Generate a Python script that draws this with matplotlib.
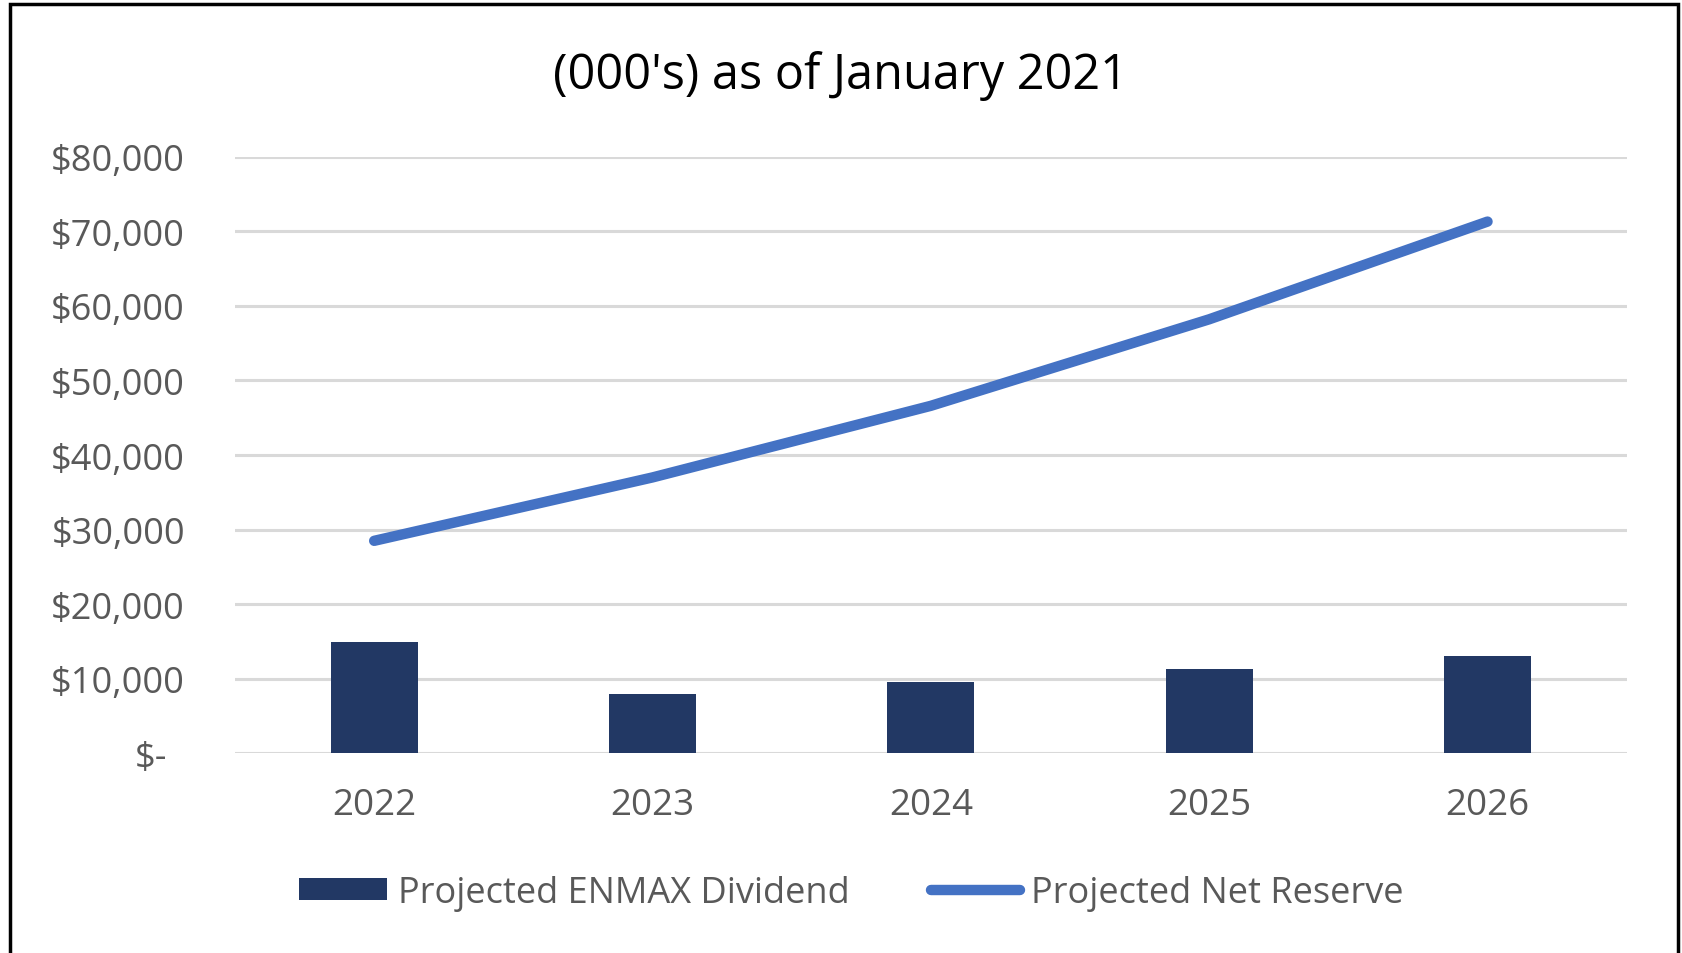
import numpy as np
import matplotlib
matplotlib.use('Agg')
import matplotlib.pyplot as plt
import matplotlib.transforms as mtransforms
from matplotlib.patches import Rectangle
from matplotlib.ticker import FuncFormatter

# data (thousands of dollars)
years = ['2022', '2023', '2024', '2025', '2026']
dividend = [14900, 8000, 9600, 11300, 13100]
net_reserve = [28500, 37000, 46600, 58200, 71300]
y_ticks = [0, 10000, 20000, 30000, 40000, 50000, 60000, 70000, 80000]

W, H = 1683, 954
plt.rcParams['font.family'] = ['Open Sans', 'DejaVu Sans']

fig = plt.figure(figsize=(W / 100, H / 100), dpi=100)
ax = fig.add_axes([235 / W, 1 - 754.4 / H, (1626.7 - 235) / W, (754.4 - 157.7) / H])

x = np.arange(len(years))
bars = ax.bar(x, dividend, width=0.313, color='#223864', label='Projected ENMAX Dividend', zorder=3)
line, = ax.plot(x, net_reserve, color='#4472C4', lw=7.5, solid_capstyle='round',
                label='Projected Net Reserve', zorder=4)

ax.set_xlim(-0.5, len(years) - 0.5)
ax.set_ylim(0, 80000)
ax.set_yticks(y_ticks)
ax.yaxis.set_major_formatter(FuncFormatter(lambda v, p: '$-' if v == 0 else f'${v:,.0f}'))
ax.set_xticks(x)
ax.set_xticklabels(years)
ax.grid(axis='y', color='#D9D9D9', lw=2.2, zorder=0)
for s in ax.spines.values():
    s.set_visible(False)
ax.tick_params(axis='both', length=0, labelcolor='#595959')
ax.tick_params(axis='y', labelsize=26, pad=36)
ax.tick_params(axis='x', labelsize=26.5, pad=24)

# accounting-style zero label sits a little further left
fig.canvas.draw()
zero_lbl = ax.get_yticklabels()[0]
zero_lbl.set_transform(zero_lbl.get_transform() +
                       mtransforms.ScaledTranslation(-13 / 72, 0, fig.dpi_scale_trans))

fig.text(0.4995, 1 - 76 / H, "(000's) as of January 2021", ha='center', va='center',
         fontsize=35, color='black')

fig.legend(handles=[bars, line], loc='center', bbox_to_anchor=(851 / W, 1 - 894 / H),
           ncol=2, frameon=False, fontsize=26, labelcolor='#595959',
           handlelength=2.45, handleheight=0.58, columnspacing=2.26, handletextpad=0.3)

# outer frame, bottom edge falls outside the picture
fig.add_artist(Rectangle((10 / W, -0.05), (1678 - 10) / W, 1.05 - 5 / H,
                         transform=fig.transFigure, fill=False, ec='black', lw=2.5,
                         clip_on=False))

plt.savefig('out.png', dpi=100)
plt.close()
